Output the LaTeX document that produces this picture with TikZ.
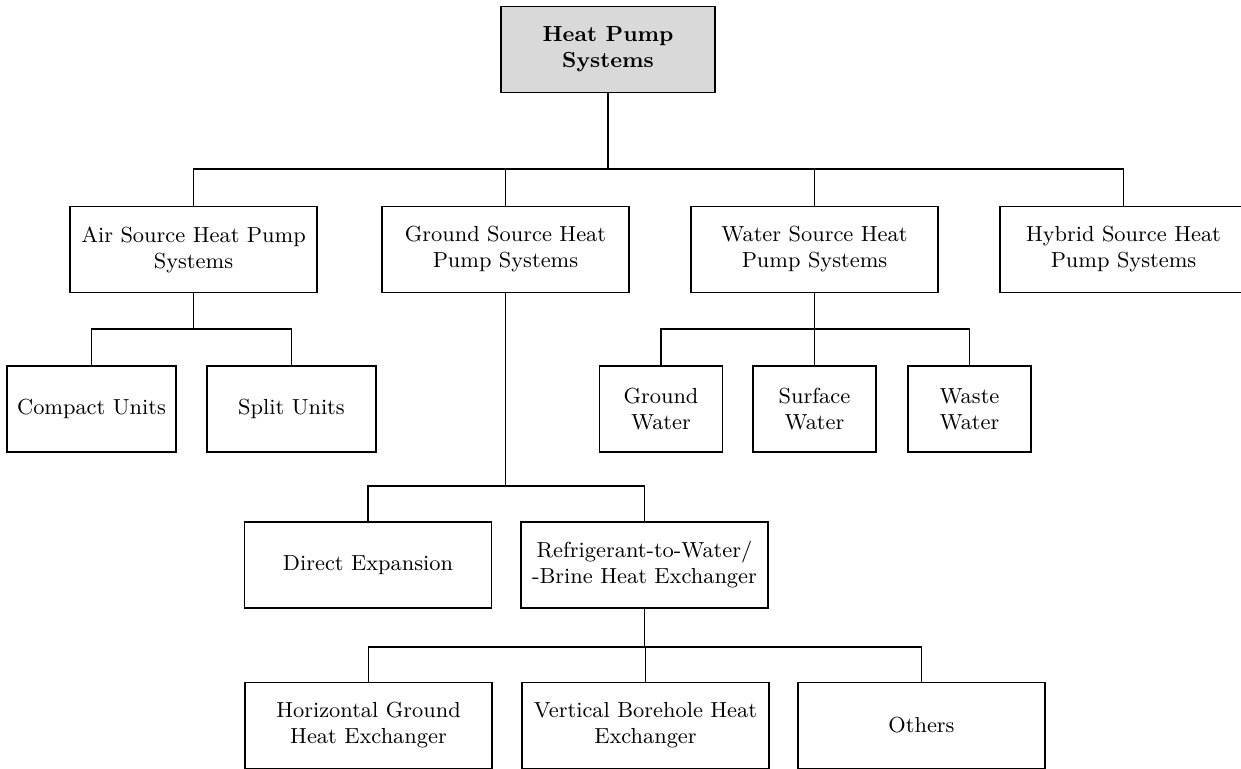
\documentclass[tikz,border=0pt]{standalone}
\usepackage{tikz}

\begin{document}
\begin{tikzpicture}
	[
	x=0.015cm, y=-0.015cm, font=\fontsize{9.3pt}{11.1pt}\selectfont, semithick,
	%Voreinstellung fuer die Kaesten
	box/.style={draw, align=center, inner sep=0pt, minimum height=1.29cm},
	bigbox/.style={box, minimum width=3.705cm},
	midbox/.style={box, minimum width=2.535cm},
	smallbox/.style={box, minimum width=1.85cm}
	]
	\useasboundingbox (0,0) rectangle (1241,769);
	%Wurzel
	\node[box, minimum width=3.21cm, fill=gray!30, font=\fontsize{9.3pt}{11.1pt}\selectfont\bfseries] (root) at (608,49.5) {Heat Pump\\Systems};
	%Erste Ebene
	\node[bigbox] (air) at (193.5,249.5) {Air Source Heat Pump\\Systems};
	\node[bigbox] (ground) at (505.5,249.5) {Ground Source Heat\\Pump Systems};
	\node[bigbox] (water) at (814.5,249.5) {Water Source Heat\\Pump Systems};
	\node[bigbox] (hybrid) at (1123.5,249.5) {Hybrid Source Heat\\Pump Systems};
	%Luft
	\node[midbox] (compact) at (91.5,409) {Compact Units};
	\node[midbox] (split) at (291.5,409) {Split Units};
	%Wasser
	\node[smallbox] (gwater) at (661,409) {Ground\\Water};
	\node[smallbox] (swater) at (814.5,409) {Surface\\Water};
	\node[smallbox] (wwater) at (969.5,409) {Waste\\Water};
	%Erdreich
	\node[bigbox] (dx) at (368,565) {Direct Expansion};
	\node[bigbox] (rtw) at (644.5,565) {Refrigerant-to-Water/\\-Brine Heat Exchanger};
	\node[bigbox] (horiz) at (368.5,725.5) {Horizontal Ground\\Heat Exchanger};
	\node[bigbox] (vert) at (645.5,725.5) {Vertical Borehole Heat\\Exchanger};
	\node[bigbox] (others) at (921.5,725.5) {Others};
	%Sammelleitungen
	\coordinate (bus1) at (0,169);
	\coordinate (bus2) at (0,329);
	\coordinate (bus3) at (0,486);
	\coordinate (bus4) at (0,647);
	%Verbindungen
	\foreach \c in {air,ground,water,hybrid}
		\draw (root.south) -- (root.south |- bus1) -| (\c.north);
	\foreach \c in {compact,split}
		\draw (air.south) -- (air.south |- bus2) -| (\c.north);
	\foreach \c in {gwater,swater,wwater}
		\draw (water.south) -- (water.south |- bus2) -| (\c.north);
	\foreach \c in {dx,rtw}
		\draw (ground.south) -- (ground.south |- bus3) -| (\c.north);
	\foreach \c in {horiz,vert,others}
		\draw (rtw.south) -- (rtw.south |- bus4) -| (\c.north);
\end{tikzpicture}
\end{document}
